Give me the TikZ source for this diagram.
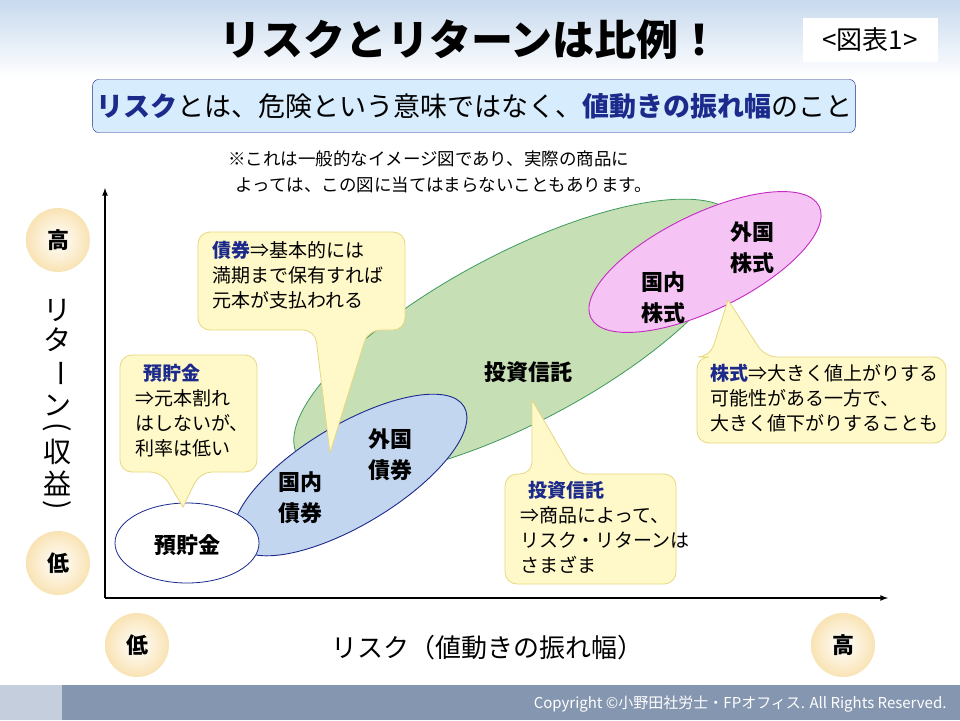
\documentclass[tikz,border=0pt]{standalone}
\usepackage{fontspec}
\setmainfont{Noto Sans CJK JP}
\usetikzlibrary{shadings}
\definecolor{cream}{HTML}{FFF9C9}
\definecolor{creamb}{HTML}{E6D77E}
\definecolor{navyt}{HTML}{1C2A8C}
\definecolor{blueell}{HTML}{C3D6EF}
\definecolor{greenell}{HTML}{C6DFB4}
\definecolor{greenb}{HTML}{3E9A5C}
\definecolor{pinkell}{HTML}{F6C4F4}
\definecolor{pinkb}{HTML}{C42BC4}
\definecolor{barc}{HTML}{8596B0}
\definecolor{barl}{HTML}{C4CEDC}
\definecolor{topb}{HTML}{C8DAEE}
\definecolor{subf}{HTML}{D7ECFC}
\definecolor{ballo}{HTML}{F9E3B4}
\tikzset{
  callout/.style={draw=creamb,fill=cream,line width=0.8pt,rounded corners=12pt},
  ctext/.style={font=\fontsize{19}{25}\selectfont,align=left,anchor=north west,inner sep=0pt},
  big/.style={font=\bfseries\fontsize{22}{31}\selectfont,align=center},
  vch/.style={font=\fontsize{28}{28}\selectfont,inner sep=0pt},
  ball/.style={circle,minimum size=64pt,inner sep=0pt,shading=radial,inner color=white,outer color=ballo,font=\bfseries\fontsize{22}{22}\selectfont},
}
\begin{document}
\begin{tikzpicture}[x=1pt,y=-1pt]
\useasboundingbox (0,0) rectangle (960,720);
\fill[white] (0,0) rectangle (960,720);
\shade[top color=topb,bottom color=white] (0,0) rectangle (960,78);
\node[font=\bfseries\fontsize{42}{42}\selectfont] (title) at (470,40) {リスクとリターンは比例！};
\node[fill=white,minimum width=135pt,minimum height=44pt,font=\fontsize{26}{26}\selectfont] (fig) at (870,40) {<図表1>};
\node[draw=navyt,fill=subf,rounded corners=6pt,minimum width=758pt,minimum height=53pt,font=\fontsize{27}{27}\selectfont] (sub) at (474,106)
  {\textcolor{navyt}{\bfseries リスク}とは、危険という意味ではなく、\textcolor{navyt}{\bfseries 値動きの振れ幅}のこと};
\node[font=\fontsize{17.5}{26}\selectfont,align=left] (note) at (440,172) {※これは一般的なイメージ図であり、実際の商品に\\\ \ よっては、この図に当てはまらないこともあります。};
% axes
\coordinate (o) at (105,598);
\coordinate (ytop) at (105,188);
\coordinate (xend) at (888,598);
\draw[line width=1.6pt,-latex] (o) -- (ytop);
\draw[line width=1.6pt,-latex] (o) -- (xend);
% ellipses
\draw[greenb,fill=greenell,line width=0.8pt,rotate around={28:(518,338)}] (518,338) ellipse (250pt and 84pt);
\draw[pinkb,fill=pinkell,line width=0.9pt,rotate around={26:(705,262)}] (705,262) ellipse (127pt and 48pt);
\draw[navyt,fill=blueell,line width=0.9pt,rotate around={31:(350,475)}] (350,475) ellipse (133pt and 50pt);
\draw[navyt,fill=white,line width=0.8pt] (187,543) ellipse (72pt and 40pt);
\node[big] (yoc) at (187,545) {預貯金};
\node[big] (kokusai) at (300,498) {国内\\債券};
\node[big] (gaisai) at (390,455) {外国\\債券};
\node[big] (toshin) at (528,372) {投資信託};
\node[big] (kokkabu) at (663,298) {国内\\株式};
\node[big] (gaikabu) at (752,248) {外国\\株式};
% callouts
\draw[callout] (120,355) -- (257,355) -- (257,472) -- (200,472) [sharp corners] -- (183,507) [rounded corners=12pt] -- (162,472) -- (120,472) -- cycle;
\node[ctext] (c1) at (135,364) {\ \ \textcolor{navyt}{\bfseries 預貯金}\\⇒元本割れ\\はしないが、\\利率は低い};
\draw[callout] (198,232) -- (405,232) -- (405,330) -- (368,330) [sharp corners] -- (330,453) [rounded corners=12pt] -- (315,330) -- (198,330) -- cycle;
\node[ctext] (c2) at (212,241) {\textcolor{navyt}{\bfseries 債券}⇒基本的には\\満期まで保有すれば\\元本が支払われる};
\draw[callout] (505,474) -- (532,474) [sharp corners] -- (532,400) [rounded corners=12pt] -- (575,474) -- (676,474) -- (676,584) -- (505,584) -- cycle;
\node[ctext] (c3) at (520,481) {\ \ \textcolor{navyt}{\bfseries 投資信託}\\⇒商品によって、\\リスク・リターンは\\さまざま};
\draw[callout] (697,357) -- (710,357) [sharp corners] -- (728,300) [rounded corners=12pt] -- (765,357) -- (946,357) -- (946,443) -- (697,443) -- cycle;
\node[ctext] (c4) at (710,364) {\textcolor{navyt}{\bfseries 株式}⇒大きく値上がりする\\可能性がある一方で、\\大きく値下がりすることも};
% balls
\node[ball] (yhi) at (58,240) {高};
\node[ball] (ylo) at (58,563) {低};
\node[ball] (xlo) at (137,645) {低};
\node[ball] (xhi) at (843,645) {高};
% vertical label
\node[vch] (v1) at (57,310) {リ};
\node[vch] (v2) at (57,340) {タ};
\node[vch] (v3) at (57,373) {\rotatebox{-90}{ー}};
\node[vch] (v4) at (57,405) {ン};
\node[vch] (v5) at (57,429) {\rotatebox[origin=c]{-90}{(}};
\node[vch] (v6) at (57,452) {収};
\node[vch] (v7) at (57,483) {益};
\node[vch] (v8) at (57,507) {\rotatebox[origin=c]{-90}{)}};
\node[font=\fontsize{26}{26}\selectfont] (xlab) at (487,648) {リスク（値動きの振れ幅）};
% bottom bar
\fill[barl] (0,685) rectangle (62,720);
\fill[barc] (62,685) rectangle (960,720);
\node[text=white,font=\fontsize{15}{15}\selectfont,anchor=east] (copy) at (950,704) {Copyright ©小野田社労士・FPオフィス. All Rights Reserved.};
\end{tikzpicture}
\end{document}
